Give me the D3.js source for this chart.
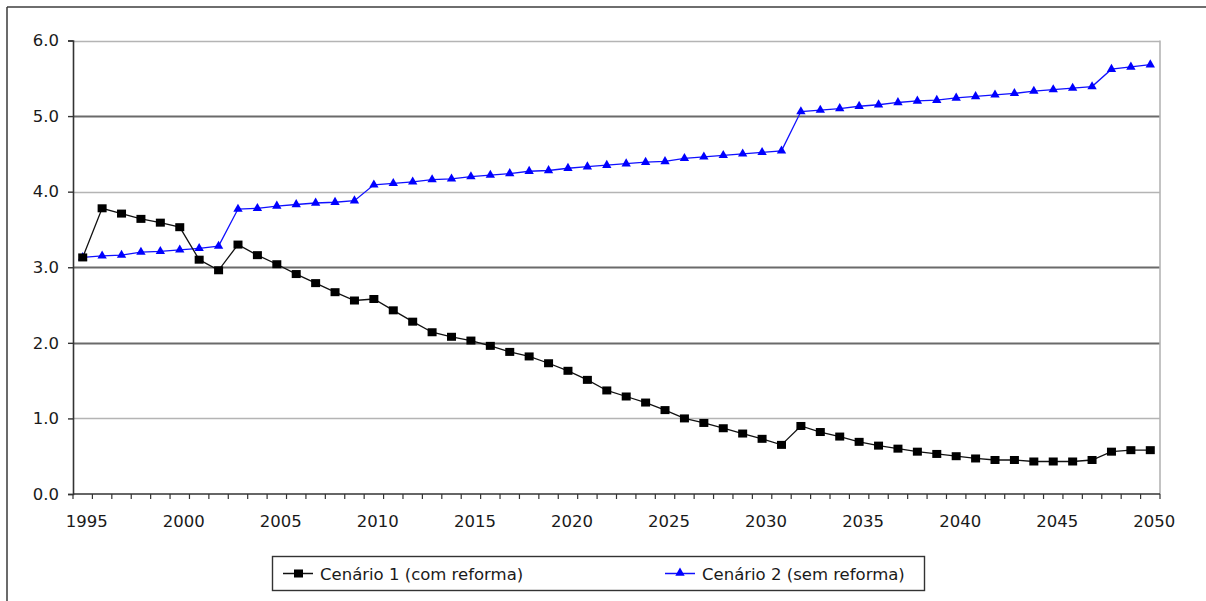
<!DOCTYPE html>
<html>
<head>
<meta charset="utf-8">
<script src="https://cdn.jsdelivr.net/npm/d3@7"></script>
<style>
  html, body { margin: 0; padding: 0; background: #fff; }
  svg { display: block; }
  text { font-family: "DejaVu Sans", Verdana, sans-serif; fill: #1a1a1a; }
</style>
</head>
<body>
<svg id="chart" width="1206" height="601"></svg>
<script>
// Years on the category axis
const years = d3.range(1995, 2051);

// Cenário 1 (com reforma)
const cenario1 = [
  3.13, 3.78, 3.71, 3.64, 3.59, 3.53, 3.10, 2.96, 3.30, 3.16,
  3.04, 2.91, 2.79, 2.67, 2.56, 2.58, 2.43, 2.28, 2.14, 2.08,
  2.03, 1.96, 1.88, 1.82, 1.73, 1.63, 1.51, 1.37, 1.29, 1.21,
  1.11, 1.00, 0.94, 0.87, 0.80, 0.73, 0.65, 0.90, 0.82, 0.76,
  0.69, 0.64, 0.60, 0.56, 0.53, 0.50, 0.47, 0.45, 0.45, 0.43,
  0.43, 0.43, 0.45, 0.56, 0.58, 0.58
];

// Cenário 2 (sem reforma)
const cenario2 = [
  3.13, 3.15, 3.16, 3.20, 3.21, 3.23, 3.25, 3.28, 3.77, 3.78,
  3.81, 3.83, 3.85, 3.86, 3.88, 4.09, 4.11, 4.13, 4.16, 4.17,
  4.20, 4.22, 4.24, 4.27, 4.28, 4.31, 4.33, 4.35, 4.37, 4.39,
  4.40, 4.44, 4.46, 4.48, 4.50, 4.52, 4.54, 5.06, 5.08, 5.10,
  5.13, 5.15, 5.18, 5.20, 5.21, 5.24, 5.26, 5.28, 5.30, 5.33,
  5.35, 5.37, 5.39, 5.62, 5.65, 5.68
];

const yTicks = [0, 1, 2, 3, 4, 5, 6];
const xLabelYears = [1995, 2000, 2005, 2010, 2015, 2020, 2025, 2030, 2035, 2040, 2045, 2050];
const seriesNames = ["Cenário 1 (com reforma)", "Cenário 2 (sem reforma)"];

const FONT = "16.5px";
const svg = d3.select("#chart");

// Outer frame of the figure
svg.append("line").attr("x1", 7).attr("x2", 1206).attr("y1", 7).attr("y2", 7)
  .attr("stroke", "#6e6e6e").attr("stroke-width", 2);
svg.append("line").attr("x1", 7).attr("x2", 7).attr("y1", 7).attr("y2", 601)
  .attr("stroke", "#3a3a3a").attr("stroke-width", 1.5);

const plot = { left: 73, right: 1160, top: 40.5, bottom: 494 };

const x = d3.scaleBand().domain(years).range([plot.left, plot.right]);
const y = d3.scaleLinear().domain([0, 6]).range([plot.bottom, plot.top]);
const cx = d => x(d) + x.bandwidth() / 2;

// Horizontal gridlines
const dark = new Set([2, 3, 5]);
svg.append("g").selectAll("line").data(yTicks.filter(t => t > 0)).join("line")
  .attr("x1", plot.left).attr("x2", plot.right)
  .attr("y1", d => Math.round(y(d)) + 0.5).attr("y2", d => Math.round(y(d)) + 0.5)
  .attr("stroke", d => dark.has(d) ? "#6a6a6a" : "#b4b4b4")
  .attr("stroke-width", d => dark.has(d) ? 1.8 : 1.6);

// Right edge of plot area
svg.append("line").attr("x1", plot.right).attr("x2", plot.right)
  .attr("y1", plot.top).attr("y2", plot.bottom)
  .attr("stroke", "#b4b4b4").attr("stroke-width", 1.6);

// Y axis
const yAxis = d3.axisLeft(y).tickValues(yTicks).tickFormat(d3.format(".1f")).tickSize(5).tickPadding(9);
const gy = svg.append("g").attr("transform", `translate(${plot.left},0)`).call(yAxis);
gy.select(".domain").attr("stroke", "#333").attr("stroke-width", 1.6);
gy.selectAll(".tick line").attr("stroke", "#333").attr("stroke-width", 1.4);
gy.selectAll(".tick text").style("font-size", FONT).attr("fill", "#1a1a1a")
  .style("font-family", "'DejaVu Sans', Verdana, sans-serif");

// X axis: tick marks between categories, labels every five years
const boundaries = d3.range(years.length + 1).map(i => plot.left + i * x.bandwidth());
const gx = svg.append("g");
gx.append("line").attr("x1", plot.left).attr("x2", plot.right)
  .attr("y1", plot.bottom).attr("y2", plot.bottom)
  .attr("stroke", "#333").attr("stroke-width", 1.6);
gx.selectAll("line.tk").data(boundaries).join("line").attr("class", "tk")
  .attr("x1", d => d).attr("x2", d => d)
  .attr("y1", plot.bottom).attr("y2", plot.bottom + 5)
  .attr("stroke", "#333").attr("stroke-width", 1.2);
gx.selectAll("text").data(xLabelYears).join("text")
  .attr("x", d => cx(d) + 4).attr("y", 527)
  .attr("text-anchor", "middle").style("font-size", FONT)
  .text(d => d);

// Series lines
const line = d3.line().x((d, i) => cx(years[i])).y(d => y(d));

svg.append("path").datum(cenario2).attr("d", line)
  .attr("fill", "none").attr("stroke", "#1010ff").attr("stroke-width", 1.3);
svg.append("path").datum(cenario1).attr("d", line)
  .attr("fill", "none").attr("stroke", "#111").attr("stroke-width", 1.3);

const tri = d3.symbol().type(d3.symbolTriangle).size(38);

// Markers
svg.append("g").selectAll("path").data(cenario2).join("path")
  .attr("d", tri)
  .attr("transform", (d, i) => `translate(${cx(years[i])},${y(d)})`)
  .attr("fill", "#0000ff");
svg.append("g").selectAll("rect").data(cenario1).join("rect")
  .attr("x", (d, i) => cx(years[i]) - 4.5).attr("y", d => y(d) - 4)
  .attr("width", 9).attr("height", 8)
  .attr("fill", "#000");

// Legend
const lg = svg.append("g");
lg.append("rect").attr("x", 272.5).attr("y", 556.5).attr("width", 652).attr("height", 34)
  .attr("fill", "#fff").attr("stroke", "#333").attr("stroke-width", 1.4);

const items = [
  { name: seriesNames[0], x0: 283, color: "#111", marker: "square" },
  { name: seriesNames[1], x0: 665, color: "#1010ff", marker: "triangle" }
];
items.forEach(it => {
  const g = lg.append("g");
  g.append("line").attr("x1", it.x0).attr("x2", it.x0 + 30).attr("y1", 573.5).attr("y2", 573.5)
    .attr("stroke", it.color).attr("stroke-width", 1.5);
  if (it.marker === "square") {
    g.append("rect").attr("x", it.x0 + 11).attr("y", 569.5).attr("width", 9).attr("height", 8).attr("fill", "#000");
  } else {
    g.append("path").attr("d", tri).attr("transform", `translate(${it.x0 + 15},573)`).attr("fill", "#0000ff");
  }
  g.append("text").attr("x", it.x0 + 37).attr("y", 579.5).style("font-size", FONT).text(it.name);
});
</script>
</body>
</html>
